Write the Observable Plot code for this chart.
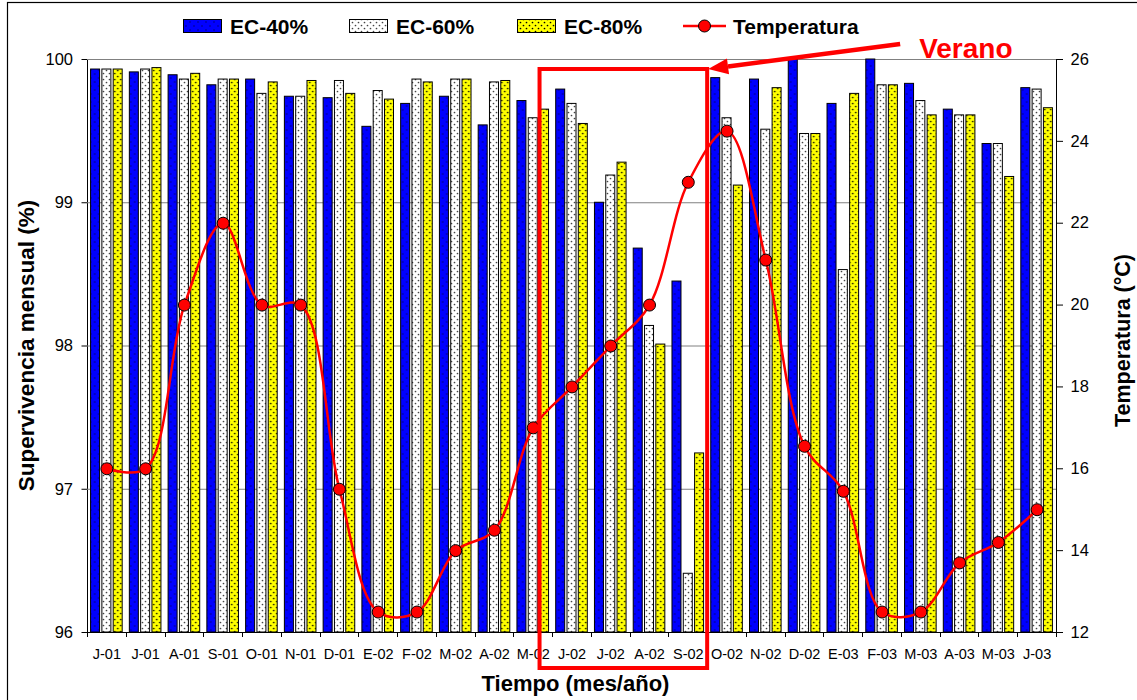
<!DOCTYPE html>
<html><head><meta charset="utf-8">
<script src="https://cdn.jsdelivr.net/npm/d3@7"></script>
<script src="https://cdn.jsdelivr.net/npm/@observablehq/plot@0.6"></script>
<style>body{margin:0;background:#fff} svg{display:block}</style>
</head><body><div id="chart"></div>
<script>
// ---- data ----
const months = ["J-01","J-01","A-01","S-01","O-01","N-01","D-01","E-02","F-02","M-02","A-02","M-02","J-02","J-02","A-02","S-02","O-02","N-02","D-02","E-03","F-03","M-03","A-03","M-03","J-03"];
const ec40 = [99.93,99.91,99.89,99.82,99.86,99.74,99.73,99.53,99.69,99.74,99.54,99.71,99.79,99.00,98.68,98.45,99.87,99.86,100.0,99.69,100.0,99.83,99.65,99.41,99.80];
const ec60 = [99.93,99.93,99.86,99.86,99.76,99.74,99.85,99.78,99.86,99.86,99.84,99.59,99.69,99.19,98.14,96.41,99.59,99.51,99.48,98.53,99.82,99.71,99.61,99.41,99.79];
const ec80 = [99.93,99.94,99.90,99.86,99.84,99.85,99.76,99.72,99.84,99.86,99.85,99.65,99.55,99.28,98.01,97.25,99.12,99.80,99.48,99.76,99.82,99.61,99.61,99.18,99.66];
const temp = [16.0,16.0,20.0,22.0,20.0,20.0,15.5,12.5,12.5,14.0,14.5,17.0,18.0,19.0,20.0,23.0,24.25,21.1,16.55,15.45,12.5,12.5,13.7,14.2,15.0];
const seriesNames = ["EC-40%","EC-60%","EC-80%","Temperatura"];
const survTicks = [96,97,98,99,100];
const tempTicks = [12,14,16,18,20,22,24,26];
const summer = {from: 11, to: 15, label: "Verano"};

// ---- layout ----
const W = 1137, H = 700, mL = 87, mR = 81, mT = 59, mB = 68;
const n = months.length;
const barW = 9, off = 11.3;
const stepPx = (W - mL - mR) / n;
const pad = 1 - barW / stepPx;
const font = "'Liberation Sans', Arial, sans-serif";

const tToS = d3.scaleLinear([tempTicks[0], tempTicks[tempTicks.length-1]], [survTicks[0], survTicks[survTicks.length-1]]);
const rows = months.map((m, i) => ({i, m, a: ec40[i], b: ec60[i], c: ec80[i], t: temp[i]}));
const base = () => survTicks[0];

const plot = Plot.plot({
  width: W, height: H, marginLeft: mL, marginRight: mR, marginTop: mT, marginBottom: mB,
  style: {fontFamily: font, background: "white", overflow: "visible", color: "black"},
  x: {type: "band", domain: d3.range(n), paddingInner: pad, paddingOuter: pad / 2, round: false, label: null},
  y: {domain: [survTicks[0], survTicks[survTicks.length-1]], label: null},
  marks: [
    Plot.frame({stroke: "black"}),
    Plot.gridY(survTicks.slice(1), {stroke: "#808080", strokeOpacity: 1}),
    Plot.barY(rows, {x: "i", y1: base, y2: "a", dx: -off, fill: "url(#pBlue)", stroke: "black", strokeWidth: 1}),
    Plot.barY(rows, {x: "i", y1: base, y2: "b", fill: "url(#pWhite)", stroke: "black", strokeWidth: 1}),
    Plot.barY(rows, {x: "i", y1: base, y2: "c", dx: off, fill: "url(#pYellow)", stroke: "black", strokeWidth: 1}),
    Plot.line(rows, {x: "i", y: d => tToS(d.t), curve: "catmull-rom", stroke: "#ff0000", strokeWidth: 2.5}),
    Plot.dot(rows, {x: "i", y: d => tToS(d.t), r: 6, fill: "#ff0000", stroke: "black", strokeWidth: 1}),
    Plot.axisY(survTicks, {anchor: "left", tickSize: 5.5, tickPadding: 9, fontSize: 16.5, tickFormat: d => d, label: null}),
    Plot.axisY(tempTicks.map(tToS), {anchor: "right", tickSize: 6, tickPadding: 8, fontSize: 16.5, tickFormat: d => Math.round(tToS.invert(d)), label: null}),
    Plot.axisX(d3.range(n), {tickSize: 0, tickPadding: 16, fontSize: 14.5, tickFormat: i => months[i], label: null})
  ]
});
document.getElementById("chart").appendChild(plot);

const svg = d3.select(plot);
const defs = svg.insert("defs", ":first-child");
function pattern(id, bg, dot, size, r) {
  const p = defs.append("pattern").attr("id", id).attr("patternUnits", "userSpaceOnUse")
    .attr("width", size).attr("height", size);
  p.append("rect").attr("width", size).attr("height", size).attr("fill", bg);
  p.append("circle").attr("cx", size/4).attr("cy", size/4).attr("r", r).attr("fill", dot);
  p.append("circle").attr("cx", 3*size/4).attr("cy", 3*size/4).attr("r", r).attr("fill", dot);
}
pattern("pBlue", "#0000ff", "#000060", 8, 0.7);
pattern("pWhite", "#ffffff", "#444444", 6, 0.85);
pattern("pYellow", "#ffff00", "#000000", 6, 0.85);

const xs = plot.scale("x"), ys = plot.scale("y");
const bwX = xs.bandwidth != null ? xs.bandwidth : barW;
const stepX = xs.apply(1) - xs.apply(0);
const cx = i => xs.apply(i) + bwX / 2;
const y0 = ys.apply(survTicks[0]), yTop = ys.apply(survTicks[survTicks.length-1]);
const xLeft = cx(0) - stepX / 2, xRight = cx(n - 1) + stepX / 2;

const g = svg.append("g").attr("text-anchor", "start");
// boundary ticks on the category axis
for (let k = 0; k <= n; k++) {
  const x = Math.round(xLeft + k * stepX) + 0.5;
  g.append("line").attr("x1", x).attr("x2", x).attr("y1", y0 + 0.5).attr("y2", y0 + 5).attr("stroke", "black");
}
// outer border
g.append("rect").attr("x", 7.5).attr("y", 2.5).attr("width", W + 10).attr("height", H + 10)
  .attr("fill", "none").attr("stroke", "black").attr("stroke-width", 1.2);

// axis titles
g.append("text").attr("transform", `translate(34,${(y0 + yTop) / 2}) rotate(-90)`)
  .attr("text-anchor", "middle").attr("font-family", font).attr("font-weight", "bold").attr("font-size", 22.5)
  .text("Supervivencia mensual (%)");
g.append("text").attr("transform", `translate(1130,${(y0 + yTop) / 2 - 5}) rotate(-90)`)
  .attr("text-anchor", "middle").attr("font-family", font).attr("font-weight", "bold").attr("font-size", 21.5)
  .text("Temperatura (°C)");
g.append("text").attr("x", (xLeft + xRight) / 2 + 4).attr("y", 691)
  .attr("text-anchor", "middle").attr("font-family", font).attr("font-weight", "bold").attr("font-size", 22)
  .text("Tiempo (mes/año)");

// legend
const lg = g.append("g").attr("font-family", font).attr("font-weight", "bold").attr("font-size", 21).attr("text-anchor", "start");
const legY = 26;
const legX = [183, 349, 517];
const fills = ["url(#pBlue)", "url(#pWhite)", "url(#pYellow)"];
legX.forEach((x, k) => {
  lg.append("rect").attr("x", x + 0.5).attr("y", legY - 6.5).attr("width", 38).attr("height", 13)
    .attr("fill", fills[k]).attr("stroke", "black");
  lg.append("text").attr("x", x + 47).attr("y", legY + 7.5).text(seriesNames[k]);
});
lg.append("line").attr("x1", 683).attr("x2", 726).attr("y1", legY).attr("y2", legY).attr("stroke", "#ff0000").attr("stroke-width", 2.5);
lg.append("circle").attr("cx", 704.5).attr("cy", legY).attr("r", 6).attr("fill", "#ff0000").attr("stroke", "black");
lg.append("text").attr("x", 733).attr("y", legY + 7.5).text(seriesNames[3]);

// summer annotation
const rx1 = cx(summer.from) + off - barW / 2;
const rx2 = cx(summer.to) + stepX / 2;
const ry1 = yTop + 10, ry2 = y0 + 36;
g.append("rect").attr("x", rx1).attr("y", ry1).attr("width", rx2 - rx1).attr("height", ry2 - ry1)
  .attr("fill", "none").attr("stroke", "#ff0000").attr("stroke-width", 4);
const tip = [rx2 + 1, ry1], tail = [tip[0] + 192, tip[1] - 25];
const ang = Math.atan2(tip[1] - tail[1], tip[0] - tail[0]);
const hl = 20, hw = 8;
const bx = tip[0] - hl * Math.cos(ang), by = tip[1] - hl * Math.sin(ang);
g.append("line").attr("x1", tail[0]).attr("y1", tail[1]).attr("x2", bx).attr("y2", by)
  .attr("stroke", "#ff0000").attr("stroke-width", 4.5);
g.append("path").attr("d", `M${tip[0]},${tip[1]}L${bx + hw * Math.sin(ang)},${by - hw * Math.cos(ang)}L${bx - hw * Math.sin(ang)},${by + hw * Math.cos(ang)}Z`)
  .attr("fill", "#ff0000");
g.append("text").attr("x", tail[0] + 19).attr("y", 57.5).attr("font-family", font).attr("font-weight", "bold")
  .attr("font-size", 28).attr("fill", "#ff0000").attr("text-anchor", "start").text(summer.label);
</script></body></html>
